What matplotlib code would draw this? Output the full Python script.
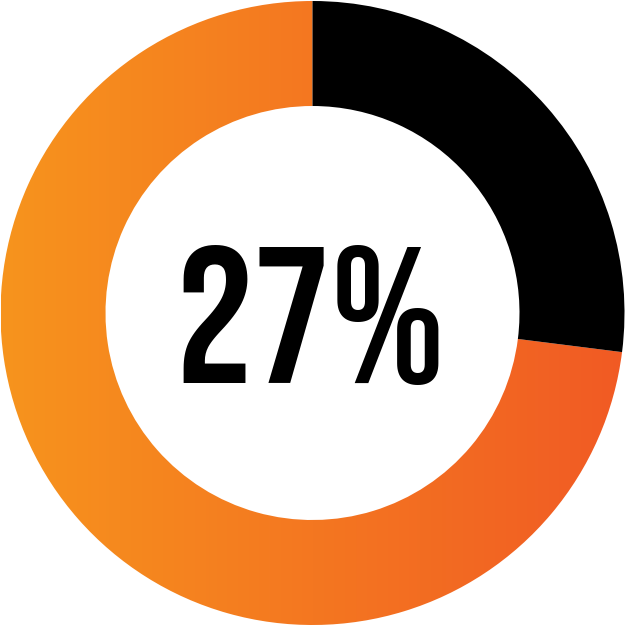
import matplotlib
matplotlib.use("Agg")
import matplotlib.pyplot as plt
import numpy as np
from matplotlib.patches import Wedge
from matplotlib.colors import LinearSegmentedColormap

value = 27
label = "27%"
color_left = "#F7941D"
color_right = "#F15A24"
color_value = "#000000"

fig = plt.figure(figsize=(6.25, 6.26), dpi=100)
ax = fig.add_axes([0, 0, 1, 1])
ax.set_xlim(0, 625)
ax.set_ylim(626, 0)
ax.axis("off")

cx, cy, r_out, r_in = 312.5, 313, 312, 207
width = r_out - r_in
end_angle = -90 + value / 100 * 360

w_rest = Wedge((cx, cy), r_out, end_angle, 270, width=width, facecolor="none", edgecolor="none")
ax.add_patch(w_rest)
grad = np.linspace(0, 1, 256).reshape(1, -1)
cmap = LinearSegmentedColormap.from_list("g", [color_left, color_right])
im = ax.imshow(grad, cmap=cmap, extent=[cx - r_out, cx + r_out, cy + r_out, cy - r_out],
               aspect="auto", zorder=1, interpolation="bilinear")
im.set_clip_path(w_rest)
w_val = Wedge((cx, cy), r_out, -90, end_angle, width=width, facecolor=color_value,
              edgecolor="none", zorder=2)
ax.add_patch(w_val)

ax.text(310, 383, label, ha="center", va="baseline", fontsize=140,
        family=["Bebas Neue", "DejaVu Sans"], color="black", zorder=3)

fig.savefig("out.png", dpi=100)
